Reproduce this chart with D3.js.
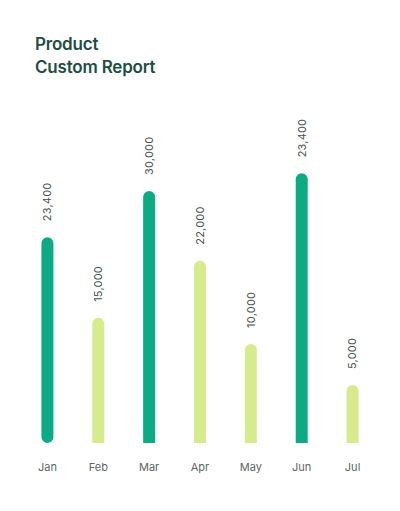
<!DOCTYPE html>
<html>
<head>
<meta charset="utf-8">
<script src="https://cdn.jsdelivr.net/npm/d3@7"></script>
<style>
  body { margin: 0; background: #fff; }
  svg { display: block; }
  .title { font-family: Inter, "Open Sans", sans-serif; font-weight: 600; font-size: 17px; fill: #1d4e41; letter-spacing: -0.2px; }
  .bar-value { font-family: Inter, "Noto Sans", sans-serif; font-size: 11px; fill: #46524f; letter-spacing: 0.2px; }
  .month { font-family: Inter, "Noto Sans", sans-serif; font-size: 11px; fill: #5c6764; }
</style>
</head>
<body>
<svg class="chart"></svg>
<script>
var WIDTH = 400, HEIGHT = 511, BARWIDTH = 12;

var months = ["Jan", "Feb", "Mar", "Apr", "May", "Jun", "Jul"];
// bar heights
var values = [24500, 14900, 30000, 21700, 11800, 32100, 6900];
// labels printed above the bars
var valueLabels = ["23,400", "15,000", "30,000", "22,000", "10,000", "23,400", "5,000"];
var highlight = ["Jan", "Mar", "Jun"];

var DARK = "#0dab84", LIGHT = "#d6eb8c";

var svg = d3.select(".chart").attr("width", WIDTH).attr("height", HEIGHT);

svg.append("text").attr("class", "title").attr("x", 35).attr("y", 50).text("Product");
svg.append("text").attr("class", "title").attr("x", 35).attr("y", 73).text("Custom Report");

var x = d3.scaleBand().domain(months).range([22, 378]).paddingInner(0);
var y = d3.scaleLinear().domain([0, 35000]).range([443, 149]);

function barPath(d, i) {
	var cx = x(months[i]) + x.bandwidth() / 2;
	var r = BARWIDTH / 2;
	var x0 = cx - r, x1 = cx + r;
	var top = y(d), bottom = y(0);
	var p = d3.path();
	if (i === 0) {
		// first bar is rounded at both ends
		p.moveTo(x0, top + r);
		p.arc(cx, top + r, r, Math.PI, 0);
		p.lineTo(x1, bottom - r);
		p.arc(cx, bottom - r, r, 0, Math.PI);
		p.closePath();
	} else {
		p.moveTo(x0, bottom);
		p.lineTo(x0, top + r);
		p.arc(cx, top + r, r, Math.PI, 0);
		p.lineTo(x1, bottom);
		p.closePath();
	}
	return p.toString();
}

var bars = svg.selectAll("g.bar").data(values).enter().append("g").attr("class", "bar");

bars.append("path")
	.attr("d", barPath)
	.attr("fill", (d, i) => highlight.indexOf(months[i]) >= 0 ? DARK : LIGHT);

bars.append("text").attr("class", "bar-value")
	.attr("transform", (d, i) => "translate(" + (x(months[i]) + x.bandwidth() / 2) + "," + (y(d) - 16) + ") rotate(-90)")
	.attr("dy", "0.35em")
	.text((d, i) => valueLabels[i]);

svg.selectAll("text.month").data(months).enter().append("text").attr("class", "month")
	.attr("x", d => x(d) + x.bandwidth() / 2)
	.attr("y", 471)
	.attr("text-anchor", "middle")
	.text(d => d);
</script>
</body>
</html>
